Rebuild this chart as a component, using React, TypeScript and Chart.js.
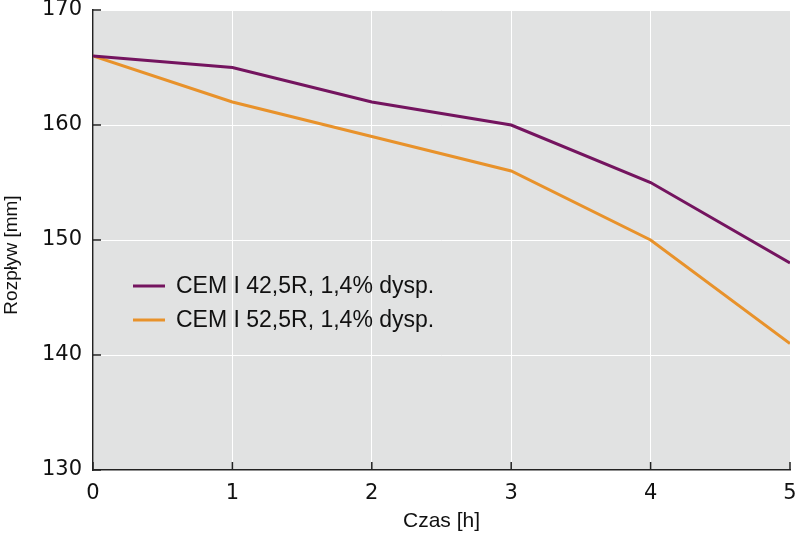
import React, { useEffect, useRef } from "react";
import { Chart, registerables } from "chart.js";

Chart.register(...registerables);

const timeHours = [0, 1, 2, 3, 4, 5];
const cem42Values = [166, 165, 162, 160, 155, 148];
const cem52Values = [166, 162, 159, 156, 150, 141];
const seriesLabels = ["CEM I 42,5R, 1,4% dysp.", "CEM I 52,5R, 1,4% dysp."];
const seriesColors = ["#74145f", "#e8922b"];
const yTicks = [130, 140, 150, 160, 170];
const xTitle = "Czas [h]";
const yTitle = "Rozpływ [mm]";

const plotBg = "#e1e2e2";
const axisColor = "#222222";

const customPlugin = {
  id: "customDecor",
  beforeDraw(chart: any) {
    const { ctx, chartArea } = chart;
    ctx.save();
    ctx.fillStyle = plotBg;
    ctx.fillRect(chartArea.left, chartArea.top, chartArea.right - chartArea.left, chartArea.bottom - chartArea.top);
    ctx.restore();
  },
  afterDraw(chart: any) {
    const { ctx, chartArea } = chart;
    const xs = chart.scales.x;
    const ys = chart.scales.y;
    ctx.save();
    ctx.strokeStyle = axisColor;
    ctx.lineWidth = 1.5;
    const tl = 8;
    timeHours.forEach((v) => {
      const px = xs.getPixelForValue(v);
      ctx.beginPath();
      ctx.moveTo(px, chartArea.bottom);
      ctx.lineTo(px, chartArea.bottom - tl);
      ctx.stroke();
    });
    yTicks.forEach((v) => {
      const py = ys.getPixelForValue(v);
      ctx.beginPath();
      ctx.moveTo(chartArea.left, py);
      ctx.lineTo(chartArea.left + tl, py);
      ctx.stroke();
    });
    // y axis title
    ctx.save();
    ctx.translate(12, 255);
    ctx.rotate(-Math.PI / 2);
    ctx.fillStyle = "#111";
    ctx.font = "19px 'Liberation Sans'";
    ctx.textAlign = "center";
    ctx.textBaseline = "middle";
    ctx.fillText(yTitle, 0, 0);
    ctx.restore();
    // legend
    const lx = 133;
    const ly = 286;
    const gap = 34;
    chart.data.datasets.forEach((ds: any, i: number) => {
      const y = ly + i * gap;
      ctx.strokeStyle = ds.borderColor;
      ctx.lineWidth = 3;
      ctx.beginPath();
      ctx.moveTo(lx, y);
      ctx.lineTo(lx + 32, y);
      ctx.stroke();
      ctx.fillStyle = "#111";
      ctx.font = "23px 'Liberation Sans'";
      ctx.textBaseline = "middle";
      ctx.textAlign = "left";
      ctx.fillText(ds.label, lx + 43, y + 1);
    });
    ctx.restore();
  },
};

export default function App() {
  const ref = useRef<HTMLCanvasElement>(null);
  useEffect(() => {
    if (!ref.current) return;
    const chart = new Chart(ref.current, {
      type: "line",
      data: {
        datasets: [cem42Values, cem52Values].map((vals, i) => ({
          label: seriesLabels[i],
          data: timeHours.map((t, j) => ({ x: t, y: vals[j] })),
          borderColor: seriesColors[i],
          backgroundColor: seriesColors[i],
          borderWidth: 3,
          pointRadius: 0,
          tension: 0,
        })),
      },
      options: {
        responsive: false,
        animation: false,
        devicePixelRatio: 1,
        layout: { padding: { top: 0, right: 0, left: 0, bottom: 0 } },
        plugins: { legend: { display: false }, tooltip: { enabled: false } },
        scales: {
          x: {
            type: "linear",
            min: 0,
            max: 5,
            afterBuildTicks: (s: any) => {
              s.ticks = timeHours.map((v) => ({ value: v }));
            },
            afterFit: (s: any) => {
              s.height = 72;
              s.paddingLeft = 0;
              s.paddingRight = 10;
            },
            grid: { color: "#ffffff", lineWidth: 1, drawTicks: false },
            border: { color: axisColor, width: 1.5 },
            ticks: { padding: 11, color: "#111", font: { family: "'DejaVu Sans'", size: 21 } },
            title: {
              display: true,
              text: xTitle,
              color: "#111",
              font: { family: "'Liberation Sans'", size: 21 },
              padding: { top: 0, bottom: 8 },
            },
          },
          y: {
            type: "linear",
            min: 130,
            max: 170,
            afterBuildTicks: (s: any) => {
              s.ticks = yTicks.map((v) => ({ value: v }));
            },
            afterFit: (s: any) => {
              s.width = 93;
              s.paddingTop = 10;
              s.paddingBottom = 0;
            },
            grid: { color: "#ffffff", lineWidth: 1, drawTicks: false },
            border: { color: axisColor, width: 1.5 },
            ticks: { padding: 11, color: "#111", font: { family: "'DejaVu Sans'", size: 21, lineHeight: 1 } },
            title: { display: false },
          },
        },
      },
      plugins: [customPlugin],
    });
    return () => chart.destroy();
  }, []);
  return (
    <div style={{ position: "fixed", left: 0, top: 0, width: 800, height: 542, background: "#fff" }}>
      <canvas ref={ref} width={800} height={542} style={{ display: "block" }} />
    </div>
  );
}
